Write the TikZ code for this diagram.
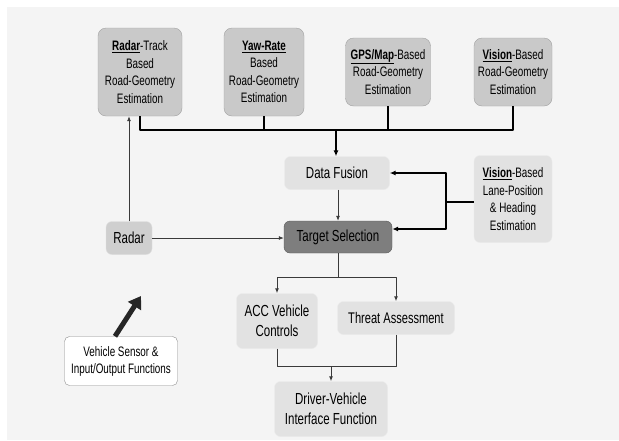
\documentclass[tikz,border=0pt]{standalone}
\usepackage{fontspec}
\setmainfont{Liberation Sans}[FakeStretch=0.72]
\usetikzlibrary{arrows.meta}

\definecolor{bggray}{HTML}{F4F4F4}
\definecolor{estfill}{HTML}{C9C9C9}
\definecolor{estline}{HTML}{A2A2A2}
\definecolor{softfill}{HTML}{E2E2E2}
\definecolor{softline}{HTML}{EBEBEB}
\definecolor{radarfill}{HTML}{CFCFCF}
\definecolor{selfill}{HTML}{7E7E7E}
\definecolor{flowgray}{HTML}{3A3A3A}

\newcommand{\ulb}[1]{\underline{\textbf{#1}}}

\begin{document}
\begin{tikzpicture}[x=1pt,y=-1pt,line join=round,
	est/.style={draw=estline,fill=estfill,rounded corners=8pt,align=center,inner sep=0pt,font=\fontsize{13.7}{17.5}\selectfont},
	soft/.style={draw=softline,fill=softfill,rounded corners=6pt,align=center,inner sep=0pt,font=\fontsize{16}{20.5}\selectfont},
	feed/.style={line width=1.4pt,draw=black},
	flow/.style={line width=0.8pt,draw=flowgray,-{Latex[length=5pt,width=4pt]}}]
	\useasboundingbox (0,0) rectangle (619,440);
	\fill[bggray] (7,7) rectangle (619,440);
	% road-geometry estimators
	\node[est,minimum width=84,minimum height=88] (rtrack) at (140,72) {\ulb{Radar}-Track\\Based\\Road-Geometry\\Estimation};
	\node[est,minimum width=80,minimum height=88] (yaw) at (264,72) {\ulb{Yaw-Rate}\\Based\\Road-Geometry\\Estimation};
	\node[est,minimum width=85,minimum height=68] (gps) at (388,72) {\ulb{GPS/Map}-Based\\Road-Geometry\\Estimation};
	\node[est,minimum width=78,minimum height=68] (vision) at (513,72) {\ulb{Vision}-Based\\Road-Geometry\\Estimation};
	% middle row
	\node[soft,minimum width=105,minimum height=33] (fusion) at (337,173) {Data Fusion};
	\node[soft,font=\fontsize{13.7}{17.5}\selectfont,minimum width=78,minimum height=87] (lane) at (513,199) {\ulb{Vision}-Based\\Lane-Position\\\& Heading\\Estimation};
	\node[soft,draw=black!65,fill=selfill,minimum width=108,minimum height=32] (target) at (338,237) {Target Selection};
	\node[soft,draw=black!12,fill=radarfill,minimum width=46,minimum height=33] (radar) at (129,238) {Radar};
	% outputs
	\node[soft,minimum width=81,minimum height=55] (acc) at (277,321) {ACC Vehicle\\Controls};
	\node[soft,font=\fontsize{15.4}{20}\selectfont,minimum width=117,minimum height=33] (threat) at (396,318) {Threat Assessment};
	\node[soft,minimum width=113,minimum height=55] (driver) at (331,409) {Driver-Vehicle\\Interface Function};
	\node[soft,draw=black!45,fill=white,rounded corners=5pt,font=\fontsize{13.7}{17}\selectfont,minimum width=113,minimum height=49] (sensor) at (121,361) {Vehicle Sensor \&\\Input/Output Functions};
	% junction points
	\coordinate (bus) at (336,130);
	\coordinate (lj) at (446,202);
	\coordinate (split) at (338,277);
	\coordinate (merge) at (331,366);
	\coordinate (pointer) at (141,296);
	% estimator bus into data fusion
	\draw[feed] (rtrack.south) |- (vision.south |- bus) -- (vision.south);
	\draw[feed] (yaw.south) -- (yaw.south |- bus);
	\draw[feed] (gps.south) -- (gps.south |- bus);
	\draw[feed,-{Latex[length=6pt,width=5pt]}] (bus) -- (bus |- fusion.north);
	% lane estimation feed
	\draw[feed] (lane.west |- lj) -- (lj);
	\draw[feed,-{Latex[length=6pt,width=5pt]}] (lj) |- (fusion.east);
	\draw[feed,-{Latex[length=6pt,width=5pt]}] (lj) |- ([yshift=8pt]target.east);
	% radar
	\draw[flow] (radar.north) -- (radar.north |- rtrack.south);
	\draw[flow] (radar.east) -- (radar.east -| target.west);
	\draw[flow] (fusion.south -| target.north) -- (target.north);
	% selection outputs
	\draw[line width=1pt,draw=flowgray] (target.south) -- (split);
	\draw[flow,line width=1pt] (split) -| (acc.north);
	\draw[flow,line width=1pt] (split) -| (threat.north);
	\draw[line width=1pt,draw=flowgray] (acc.south) |- (merge);
	\draw[line width=1pt,draw=flowgray] (threat.south) |- (merge);
	\draw[flow,line width=1pt] (merge) -- (driver.north);
	% pointer arrow
	\draw[line width=5pt,draw=black!85,-{Triangle[length=12pt,width=15pt]}] ([xshift=-6pt]sensor.north) -- (pointer);
\end{tikzpicture}
\end{document}
